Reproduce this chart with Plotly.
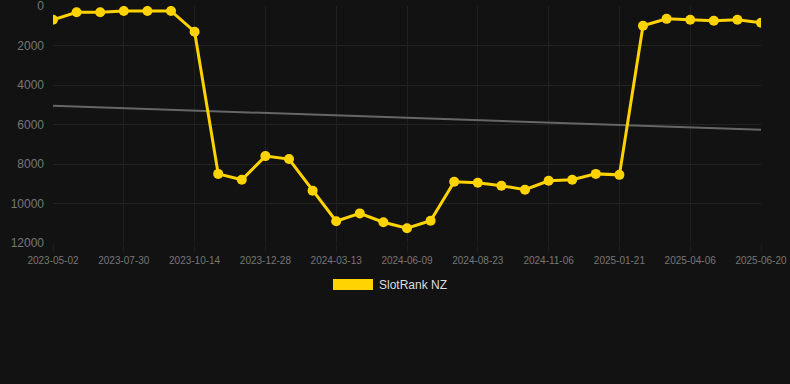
import numpy as np
import plotly.graph_objects as go

dates = [
    "2023-05-02", "2023-05-31", "2023-06-30", "2023-07-30", "2023-08-24", "2023-09-18",
    "2023-10-14", "2023-11-08", "2023-12-03", "2023-12-28", "2024-01-22", "2024-02-17",
    "2024-03-13", "2024-04-11", "2024-05-11", "2024-06-09", "2024-07-04", "2024-07-29",
    "2024-08-23", "2024-09-17", "2024-10-12", "2024-11-06", "2024-12-01", "2024-12-27",
    "2025-01-21", "2025-02-15", "2025-03-12", "2025-04-06", "2025-05-01", "2025-05-26",
    "2025-06-20",
]
ranks = [
    700, 320, 320, 250, 250, 250, 1300, 8500, 8800, 7600, 7750, 9350, 10900, 10500,
    10950, 11250, 10870, 8900, 8950, 9100, 9300, 8850, 8800, 8500, 8550, 1000, 650,
    700, 750, 700, 850,
]
tick_labels = [
    "2023-05-02", "2023-07-30", "2023-10-14", "2023-12-28", "2024-03-13", "2024-06-09",
    "2024-08-23", "2024-11-06", "2025-01-21", "2025-04-06", "2025-06-20",
]
y_ticks = [0, 2000, 4000, 6000, 8000, 10000, 12000]
y_tick_text = ["0", "2000", "4000", "6000", "8000", "10000", "12000"]
series_name = "SlotRank NZ"

idx = np.arange(len(ranks))
slope, intercept = np.polyfit(idx, ranks, 1)
trend = slope * idx + intercept

fig = go.Figure()
fig.add_trace(go.Scatter(
    x=dates, y=trend, mode="lines",
    line=dict(color="#666666", width=2), showlegend=False, hoverinfo="skip",
))
fig.add_trace(go.Scatter(
    x=dates, y=ranks, mode="lines+markers", name=series_name,
    line=dict(color="#FFD300", width=3),
    marker=dict(color="#FFD300", size=10),
    showlegend=False,
))

fig.add_shape(type="rect", xref="paper", yref="paper",
              x0=(333 - 53) / 708, x1=(373 - 53) / 708,
              y0=-(279 - 243) / 237, y1=-(290 - 243) / 237,
              fillcolor="#FFD300", line=dict(width=0))
fig.add_annotation(xref="paper", yref="paper",
                   x=(377 - 53) / 708, y=-(284.5 - 243) / 237,
                   text=series_name, showarrow=False, xanchor="left", yanchor="middle",
                   font=dict(color="#dddddd", size=12, family="Liberation Sans, Arial"))

fig.update_layout(
    width=790, height=384,
    margin=dict(l=53, r=29, t=6, b=141),
    paper_bgcolor="#121212", plot_bgcolor="#121212",
    font=dict(family="Liberation Sans, Arial", color="#777777"),
    xaxis=dict(
        type="category", tickmode="array", tickvals=tick_labels, ticktext=tick_labels,
        range=[0, len(dates) - 1], showgrid=True, gridcolor="#1f1f1f", zeroline=False,
        tickfont=dict(size=10, color="#777777"), tickangle=0, showline=False,
        ticks="outside", ticklen=8, tickcolor="#1c1c1c", automargin=False,
        ticklabeloverflow="allow",
    ),
    yaxis=dict(
        autorange=False, range=[12000, 0], tickmode="array",
        tickvals=y_ticks, ticktext=y_tick_text,
        showgrid=True, gridcolor="#222222", zeroline=False,
        tickfont=dict(size=12, color="#777777"), ticklabelstandoff=8,
        automargin=False, ticklabeloverflow="allow",
    ),
    showlegend=False,
)

fig.write_html(
    "out.html",
    config={"displayModeBar": False},
    post_script="document.body.style.margin='0';document.body.style.padding='0';"
                "document.body.style.background='#121212';",
)
